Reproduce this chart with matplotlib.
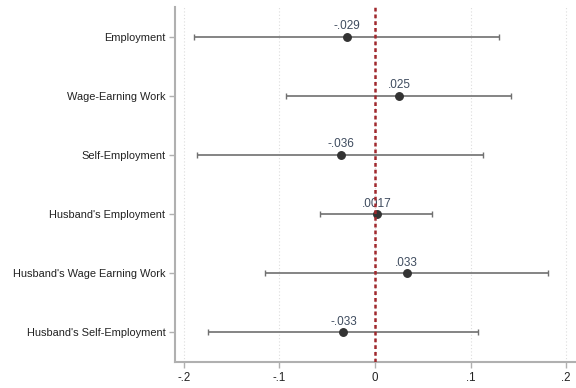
import matplotlib
matplotlib.use("Agg")
import matplotlib.pyplot as plt

plt.rcParams['font.family'] = ['Liberation Sans', 'DejaVu Sans']

outcomes = ["Employment", "Wage-Earning Work", "Self-Employment",
            "Husband's Employment", "Husband's Wage Earning Work",
            "Husband's Self-Employment"]
coef = [-0.029, 0.025, -0.036, 0.0017, 0.033, -0.033]
ci_low = [-0.189, -0.093, -0.186, -0.058, -0.115, -0.175]
ci_high = [0.130, 0.142, 0.113, 0.060, 0.181, 0.108]
coef_labels = ["-.029", ".025", "-.036", ".0017", ".033", "-.033"]
xticks = [-0.2, -0.1, 0.0, 0.1, 0.2]
xtick_labels = ["-.2", "-.1", "0", ".1", ".2"]

fig = plt.figure(figsize=(5.76, 3.88), dpi=100)
ax = fig.add_axes([0.3038, 0.067, 0.6945, 0.915])

ypos = list(range(1, len(outcomes) + 1))

# vertical dotted grid
for xv in xticks:
    ax.axvline(xv, color="#dddddd", lw=0.8, ls=(0, (1, 2)), zorder=0)

ax.errorbar(coef, ypos,
            xerr=[[c - lo for c, lo in zip(coef, ci_low)],
                  [hi - c for c, hi in zip(coef, ci_high)]],
            fmt="none", ecolor="#707070", elinewidth=1.2, capsize=2.5,
            capthick=1.0, zorder=2)
ax.plot(coef, ypos, "o", color="#333333", markersize=5.4, zorder=3)

for c, y, lab in zip(coef, ypos, coef_labels):
    ax.annotate(lab, (c, y), xytext=(0, 7.5), textcoords="offset points",
                ha="center", va="center", fontsize=8.5, color="#3e4b5e",
                zorder=4)

ax.axvline(0, color="#a0282d", lw=1.8, ls=(0, (1.5, 1.2)), zorder=5)

ax.set_xlim(-0.2094, 0.2094)
ax.set_ylim(len(outcomes) + 0.5, 0.5)
ax.set_yticks(ypos)
ax.set_yticklabels(outcomes, fontsize=7.9, color="#222222")
ax.set_xticks(xticks)
ax.set_xticklabels(xtick_labels, fontsize=8.3, color="#222222")

for s in ["top", "right"]:
    ax.spines[s].set_visible(False)
for s in ["left", "bottom"]:
    ax.spines[s].set_color("#b0b0b0")
    ax.spines[s].set_linewidth(1.5)
ax.tick_params(axis="both", color="#b0b0b0", length=4, width=1.0, pad=3)

fig.savefig("out.png", dpi=100)
